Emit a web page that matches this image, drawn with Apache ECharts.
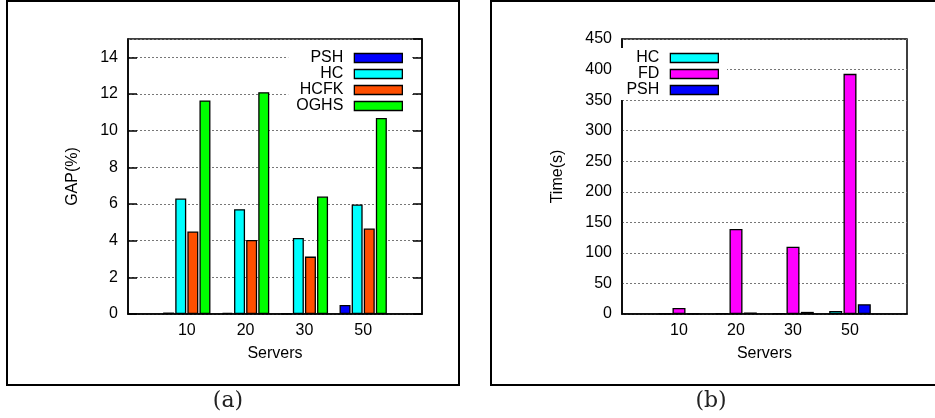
<!DOCTYPE html>
<html>
<head>
<meta charset="utf-8">
<script src="https://cdn.jsdelivr.net/npm/echarts@6/dist/echarts.min.js"></script>
<style>
html,body{margin:0;padding:0;background:#fff;}
#c{width:935px;height:418px;}
</style>
</head>
<body>
<div id="c"></div>
<script>
// ---- data ----
var categories = ['', '10', '20', '30', '50', ''];
// panel (a): GAP(%)
var gapPSH  = [null, 0.08, 0.06, 0.03, 0.49, null];
var gapHC   = [null, 6.3, 5.72, 4.15, 5.97, null];
var gapHCFK = [null, 4.5, 4.04, 3.13, 4.66, null];
var gapOGHS = [null, 11.65, 12.1, 6.41, 10.69, null];
// panel (b): Time(s)
var timeHC  = [null, 0.8, 1, 1.5, 5, null];
var timeFD  = [null, 10, 139, 110, 393, null];
var timePSH = [null, 0.8, 2.5, 3.5, 16, null];
var gapTicks = [0, 2, 4, 6, 8, 10, 12, 14];
var timeTicks = [0, 50, 100, 150, 200, 250, 300, 350, 400, 450];

var FONT = 'Liberation Sans';
var FS = 16;
var colors = {PSH:'#0000ff', HC:'#00ffff', HCFK:'#ff4f00', OGHS:'#00ff00', FD:'#ff00ff'};

function bar(name, data, xi, yi, w) {
  return {
    name: name, type: 'bar', xAxisIndex: xi, yAxisIndex: yi, data: data,
    barWidth: w, barGap: '10%',
    itemStyle: {color: colors[name], borderColor: '#000', borderWidth: 1.3},
    emphasis: {disabled: true}, animation: false
  };
}
function xAx(gi) {
  return {
    type: 'category', gridIndex: gi, data: categories, boundaryGap: false,
    axisTick: {show: false},
    axisLine: {lineStyle: {color: '#000', width: 1.5}},
    axisLabel: {color: '#000', fontSize: FS, fontFamily: FONT, margin: 9, interval: 0},
    name: 'Servers', nameLocation: 'middle', nameGap: 32,
    nameTextStyle: {color: '#000', fontSize: FS, fontFamily: FONT},
    splitLine: {show: false}
  };
}
function yAx(gi, max, interval, name, nameGap, ticksLen, pos, labels) {
  return {
    type: 'value', gridIndex: gi, min: 0, max: max, interval: interval, position: pos,
    axisLine: {show: true, lineStyle: {color: '#000', width: 1.5}},
    axisTick: {show: ticksLen > 0, inside: true, length: ticksLen, lineStyle: {color: '#000', width: 1.5}},
    axisLabel: {show: labels, color: '#000', fontSize: FS, fontFamily: FONT, margin: 10,
      showMaxLabel: max % interval === 0},
    splitLine: {show: labels, lineStyle: {color: '#777', type: [2, 2], width: 1}},
    name: labels ? name : '', nameLocation: 'middle', nameGap: nameGap,
    nameTextStyle: {color: '#000', fontSize: FS, fontFamily: FONT}
  };
}
function leg(names, right) {
  return {
    data: names, orient: 'vertical', align: 'right', right: right, top: 48,
    itemWidth: 48, itemHeight: 9, itemGap: 0, padding: [2, 8, 2, 8],
    backgroundColor: '#fff', selectedMode: false,
    icon: 'rect',
    itemStyle: {borderColor: '#000', borderWidth: 1.3},
    textStyle: {color: '#000', fontSize: FS, fontFamily: FONT, padding: [0, 6, 0, 0]}
  };
}

var chart = echarts.init(document.getElementById('c'), null, {renderer: 'canvas'});
chart.setOption({
  animation: false,
  backgroundColor: '#fff',
  grid: [
    {left: 128, top: 39, width: 294, height: 275, show: true, borderColor: '#000', borderWidth: 1.5, containLabel: false},
    {left: 622, top: 39, width: 285, height: 275, show: true, borderColor: '#000', borderWidth: 1.5, containLabel: false}
  ],
  xAxis: [xAx(0), xAx(1)],
  yAxis: [
    yAx(0, 15, 2, 'GAP(%)', 47, 9, 'left', true),
    yAx(0, 15, 2, '', 0, 9, 'right', false),
    yAx(1, 450, 50, 'Time(s)', 56, 0, 'left', true)
  ],
  legend: [leg(['PSH', 'HC', 'HCFK', 'OGHS'], 524), leg(['HC', 'FD', 'PSH'], 208)],
  series: [
    bar('PSH', gapPSH, 0, 0, 11),
    bar('HC', gapHC, 0, 0, 11),
    bar('HCFK', gapHCFK, 0, 0, 11),
    bar('OGHS', gapOGHS, 0, 0, 11),
    bar('HC', timeHC, 1, 2, 13),
    bar('FD', timeFD, 1, 2, 13),
    bar('PSH', timePSH, 1, 2, 13)
  ],
  graphic: [
    {type: 'rect', shape: {x: 7, y: 1, width: 452, height: 384}, style: {fill: null, stroke: '#000', lineWidth: 2}, silent: true, z: 100},
    {type: 'rect', shape: {x: 491, y: 1, width: 460, height: 384}, style: {fill: null, stroke: '#000', lineWidth: 2}, silent: true, z: 100},
    {type: 'text', x: 228, y: 401, style: {text: '(a)', fontFamily: 'DejaVu Serif', fontSize: 22, fill: '#222', align: 'center', verticalAlign: 'middle'}, silent: true},
    {type: 'text', x: 711, y: 401, style: {text: '(b)', fontFamily: 'DejaVu Serif', fontSize: 22, fill: '#222', align: 'center', verticalAlign: 'middle'}, silent: true}
  ]
});
</script>
</body>
</html>
